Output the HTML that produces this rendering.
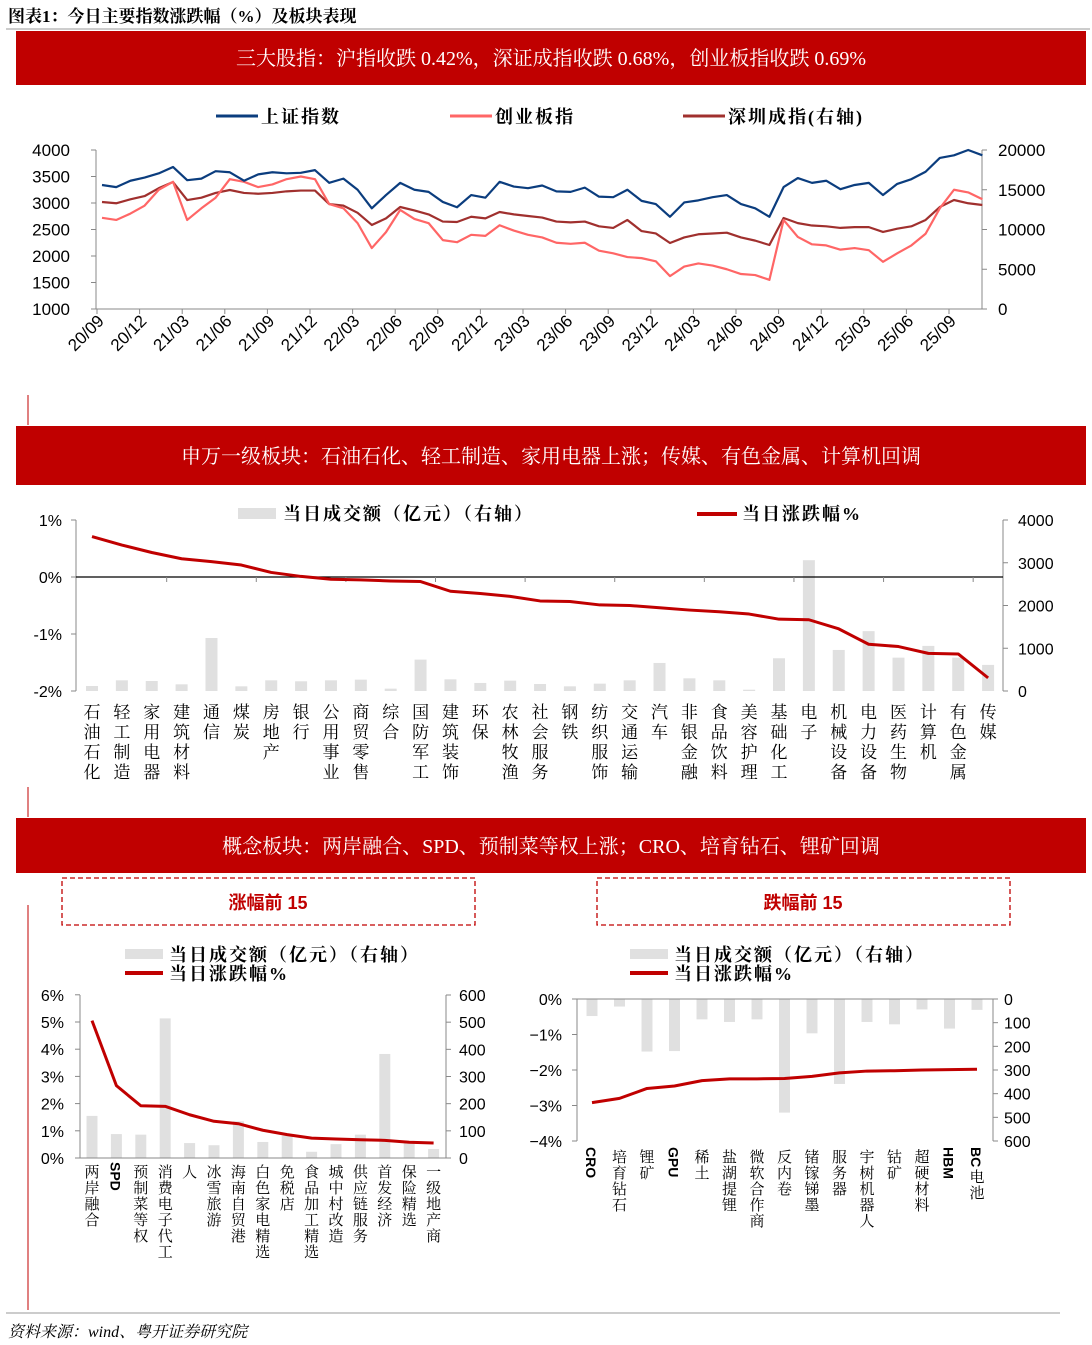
<!DOCTYPE html>
<html><head><meta charset="utf-8"><style>
html,body{margin:0;padding:0;background:#fff}
svg{display:block;font-family:"Liberation Sans","Noto Sans CJK SC",sans-serif}
.serif{font-family:"Liberation Serif","Noto Serif CJK SC",serif}
</style></head><body>
<svg id="s" width="1092" height="1345" viewBox="0 0 1092 1345" xmlns="http://www.w3.org/2000/svg">
<text x="8" y="22" font-size="17" font-weight="bold" fill="#000" class="serif">图表1：今日主要指数涨跌幅（%）及板块表现</text>
<line x1="6" y1="29" x2="1090" y2="29" stroke="#999" stroke-width="1"/>
<rect x="16" y="31" width="1070" height="54" fill="#C00000"/>
<text x="551" y="65" font-size="20" fill="#fff" text-anchor="middle" class="serif">三大股指：沪指收跌 0.42%，深证成指收跌 0.68%，创业板指收跌 0.69%</text>
<rect x="16" y="426" width="1070" height="59" fill="#C00000"/>
<text x="551" y="463" font-size="20" fill="#fff" text-anchor="middle" class="serif">申万一级板块：石油石化、轻工制造、家用电器上涨；传媒、有色金属、计算机回调</text>
<rect x="16" y="818" width="1070" height="55" fill="#C00000"/>
<text x="551" y="853" font-size="20" fill="#fff" text-anchor="middle" class="serif">概念板块：两岸融合、SPD、预制菜等权上涨；CRO、培育钻石、锂矿回调</text>
<line x1="28" y1="395" x2="28" y2="425" stroke="#C00000" stroke-width="1"/>
<line x1="28" y1="787" x2="28" y2="817" stroke="#C00000" stroke-width="1"/>
<line x1="28" y1="905" x2="28" y2="1310" stroke="#C00000" stroke-width="1"/>
<rect x="62" y="878" width="413" height="47" fill="none" stroke="#C00000" stroke-dasharray="5,3" stroke-width="1.3"/>
<text x="268" y="909" font-size="18" fill="#C00000" text-anchor="middle" font-weight="bold">涨幅前 15</text>
<rect x="597" y="878" width="413" height="47" fill="none" stroke="#C00000" stroke-dasharray="5,3" stroke-width="1.3"/>
<text x="803" y="909" font-size="18" fill="#C00000" text-anchor="middle" font-weight="bold">跌幅前 15</text>
<line x1="6" y1="1313" x2="1060" y2="1313" stroke="#999" stroke-width="1"/>
<text x="8" y="1337" font-size="16" font-style="italic" fill="#000" class="serif">资料来源：wind、粤开证券研究院</text>
<g id="g"></g>
</svg>
<script>
// ---- Chart 1 data (monthly samples from 2020/09) ----
const shIndex=[3340,3300,3420,3480,3560,3680,3430,3460,3600,3580,3420,3540,3580,3560,3570,3620,3380,3460,3250,2900,3150,3380,3250,3210,3020,2920,3150,3100,3400,3310,3280,3330,3220,3210,3290,3120,3110,3250,3040,2980,2740,3010,3050,3110,3150,2980,2900,2740,3300,3470,3380,3420,3260,3340,3380,3150,3360,3450,3590,3850,3900,4000,3900];
const cyIndex=[2720,2680,2800,2950,3250,3400,2680,2900,3100,3450,3400,3300,3350,3450,3500,3450,2980,2900,2620,2150,2450,2870,2700,2620,2300,2260,2400,2380,2580,2480,2400,2350,2250,2230,2250,2100,2050,1980,1960,1900,1620,1800,1860,1820,1750,1660,1640,1550,2680,2360,2220,2200,2120,2150,2110,1890,2050,2200,2420,2900,3250,3200,3070];
const szIndex=[13460,13300,13800,14200,15200,15970,13700,14000,14600,14970,14600,14500,14600,14800,14900,14900,13200,13000,12100,10570,11400,12830,12400,11900,11000,10940,11600,11400,12200,11900,11700,11500,11000,10900,11000,10400,10200,11200,9800,9500,8300,9000,9400,9500,9600,9000,8600,8050,11450,10800,10500,10400,10200,10300,10300,9690,10100,10400,11200,12830,13710,13300,13080];
const c1Ticks=["20/09","20/12","21/03","21/06","21/09","21/12","22/03","22/06","22/09","22/12","23/03","23/06","23/09","23/12","24/03","24/06","24/09","24/12","25/03","25/06","25/09"];
const c1Left=[1000,1500,2000,2500,3000,3500,4000];
const c1Right=[0,5000,10000,15000,20000];
// ---- Chart 2 data ----
const swCats=["石油石化","轻工制造","家用电器","建筑材料","通信","煤炭","房地产","银行","公用事业","商贸零售","综合","国防军工","建筑装饰","环保","农林牧渔","社会服务","钢铁","纺织服饰","交通运输","汽车","非银金融","食品饮料","美容护理","基础化工","电子","机械设备","电力设备","医药生物","计算机","有色金属","传媒"];
const swChg=[0.71,0.56,0.43,0.32,0.27,0.21,0.08,0.01,-0.04,-0.05,-0.07,-0.08,-0.25,-0.29,-0.34,-0.42,-0.43,-0.49,-0.50,-0.54,-0.58,-0.61,-0.65,-0.74,-0.75,-0.91,-1.18,-1.22,-1.34,-1.35,-1.77];
const swVol=[117,250,234,156,1240,109,250,227,250,265,55,734,273,188,242,164,109,172,250,656,297,250,30,766,3060,960,1400,780,1055,780,610];
const swLeft=["1%","0%","-1%","-2%"], swLeftV=[1,0,-1,-2];
const swRight=[0,1000,2000,3000,4000];
// ---- Chart 3 data ----
const upCats=["两岸融合","SPD","预制菜等权","消费电子代工","人","冰雪旅游","海南自贸港","白色家电精选","免税店","食品加工精选","城中村改造","供应链服务","首发经济","保险精选","一级地产商"];
const upChg=[5.05,2.66,1.92,1.90,1.59,1.35,1.26,1.02,0.86,0.73,0.70,0.67,0.65,0.58,0.55];
const upVol=[155,88,86,514,55,47,135,59,82,23,51,86,383,55,33];
const upLeft=[0,1,2,3,4,5,6], upRight=[0,100,200,300,400,500,600];
// ---- Chart 4 data ----
const dnCats=["CRO","培育钻石","锂矿","GPU","稀土","盐湖提锂","微软合作商","反内卷","锗镓锑墨","服务器","宇树机器人","钴矿","超硬材料","HBM","BC电池"];
const dnChg=[-2.92,-2.80,-2.52,-2.45,-2.30,-2.25,-2.25,-2.24,-2.18,-2.08,-2.03,-2.02,-2.00,-1.99,-1.98];
const dnVol=[72,32,222,220,86,97,86,480,145,359,97,107,44,125,46];
const dnLeft=[0,-1,-2,-3,-4], dnRight=[0,100,200,300,400,500,600];

const NS="http://www.w3.org/2000/svg";
const G=document.getElementById('g');
function el(tag,attrs,parent,txt){const e=document.createElementNS(NS,tag);for(const k in attrs)e.setAttribute(k,attrs[k]);if(txt!==undefined)e.textContent=txt;(parent||G).appendChild(e);return e;}

// ===== Chart 1 =====
(function(){
 const x0=97,dx=42.6/3,y0=309,h=159;
 const xs=i=>x0+5+i*dx;
 const yl=v=>y0-(v-1000)/3000*h;
 const yr=v=>y0-v/20000*h;
 let e=el('line',{x1:96,y1:150,x2:96,y2:309,stroke:'#888'});
 
 e=el('line',{x1:982,y1:150,x2:982,y2:309,stroke:'#888'});
 
 e=el('line',{x1:96,y1:309,x2:982,y2:309,stroke:'#888'});
 
 c1Left.forEach(v=>{const y=yl(v);el('line',{x1:91,y1:y,x2:96,y2:y,stroke:'#888'});
  const t=el('text',{x:70,y:y+6,'font-size':17,'text-anchor':'end'},G,String(v));
  });
 c1Right.forEach(v=>{const y=yr(v);el('line',{x1:982,y1:y,x2:987,y2:y,stroke:'#888'});
  const t=el('text',{x:998,y:y+6,'font-size':17},G,String(v));
  });
 c1Ticks.forEach((s,i)=>{const x=x0+i*42.6;el('line',{x1:x,y1:309,x2:x,y2:314,stroke:'#888'});
  const t=el('text',{x:x+8,y:322,'font-size':17,'text-anchor':'end',transform:`rotate(-45 ${x+8} 322)`},G,s);
  });
 const ser=[[szIndex,yr,'#A0302E','shenzhen-line'],[cyIndex,yl,'#FF6666','chinext-line'],[shIndex,yl,'#0B3D7E','shanghai-line']];
 ser.forEach(([arr,f,c,n])=>{const p=el('polyline',{points:arr.map((v,i)=>xs(i)+','+f(v)).join(' '),fill:'none',stroke:c,'stroke-width':2.2,'stroke-linejoin':'round'});
  });
 const leg=[['上证指数','#0B3D7E',216],['创业板指','#FF6666',450],['深圳成指(右轴)','#A0302E',683]];
 leg.forEach(([s,c,x])=>{const l=el('line',{x1:x,y1:116,x2:x+42,y2:116,stroke:c,'stroke-width':3});
  
  const t=el('text',{x:x+45,y:123,'font-size':18,'font-weight':'bold','letter-spacing':2,class:'serif'},G,s);
  });
})();

// ===== Chart 2 =====
(function(){
 const xL=76,xR=1003,step=29.87,x0=92;
 const xs=i=>x0+i*step;
 const yl=v=>577-v*57;
 const yr=v=>691-v/4000*171;
 let e=el('line',{x1:xL,y1:520,x2:xL,y2:691,stroke:'#888'});
 
 e=el('line',{x1:xR,y1:520,x2:xR,y2:691,stroke:'#888'});
 
 swLeftV.forEach((v,i)=>{const y=yl(v);el('line',{x1:xL-5,y1:y,x2:xL,y2:y,stroke:'#888'});
  const t=el('text',{x:62,y:y+6,'font-size':16,'text-anchor':'end'},G,swLeft[i]);
  });
 swRight.forEach(v=>{const y=yr(v);el('line',{x1:xR,y1:y,x2:xR+5,y2:y,stroke:'#888'});
  const t=el('text',{x:1018,y:y+6,'font-size':16},G,String(v));
  });
 swVol.forEach((v,i)=>{const y=yr(v);const b=el('rect',{x:xs(i)-6,y:y,width:12,height:691-y,fill:'#E0E0E0'});
  });
 e=el('line',{x1:xL,y1:577,x2:xR,y2:577,stroke:'#000','stroke-width':1.2});
 
 for(let i=3;i<swCats.length;i+=3){const x=xs(i)-step/2;el('line',{x1:x,y1:577,x2:x,y2:582,stroke:'#888'});}
 const p=el('polyline',{points:swChg.map((v,i)=>xs(i)+','+yl(v)).join(' '),fill:'none',stroke:'#C00000','stroke-width':3,'stroke-linejoin':'round'});
 
 swCats.forEach((s,i)=>{const t=el('text',{x:xs(i),y:718,'font-size':17,'text-anchor':'middle',class:'serif'});
  
  [...s].forEach((ch,k)=>el('tspan',{x:xs(i),y:718+k*20},t,ch));});
 let r=el('rect',{x:238,y:508,width:38,height:11,fill:'#E0E0E0'});
 
 let t=el('text',{x:283,y:520,'font-size':18,'font-weight':'bold','letter-spacing':2,class:'serif'},G,'当日成交额（亿元）（右轴）');
 
 r=el('line',{x1:697,y1:514,x2:737,y2:514,stroke:'#C00000','stroke-width':4});
 
 t=el('text',{x:742,y:520,'font-size':18,'font-weight':'bold','letter-spacing':2,class:'serif'},G,'当日涨跌幅%');
 
})();

// ===== Chart 3/4 helper =====
function small(o){
 const {cats,chg,vol,xL,xR,x0,step,yl,yr,yTop,yBot,leftV,leftFmt,rightV,rightY,lx,rx,prefix,labY,down,legX}=o;
 const xs=i=>x0+i*step;
 let e=el('line',{x1:xL,y1:yTop,x2:xL,y2:yBot,stroke:'#888'});
 
 e=el('line',{x1:xR,y1:yTop,x2:xR,y2:yBot,stroke:'#888'});
 
 leftV.forEach(v=>{const y=yl(v);el('line',{x1:xL-5,y1:y,x2:xL,y2:y,stroke:'#888'});
  const t=el('text',{x:lx,y:y+6,'font-size':16,'text-anchor':'end'},G,leftFmt(v));
  });
 rightV.forEach(v=>{const y=rightY(v);el('line',{x1:xR,y1:y,x2:xR+5,y2:y,stroke:'#888'});
  const t=el('text',{x:rx,y:y+6,'font-size':16},G,String(v));
  });
 vol.forEach((v,i)=>{const y=yr(v),b0=yr(0);const b=el('rect',{x:xs(i)-5.5,y:Math.min(y,b0),width:11,height:Math.abs(y-b0),fill:'#E0E0E0'});
  });
 const ax=down?yTop:yBot;
 e=el('line',{x1:xL,y1:ax,x2:xR,y2:ax,stroke:'#888'});
 
 const p=el('polyline',{points:chg.map((v,i)=>xs(i)+','+yl(v)).join(' '),fill:'none',stroke:'#C00000','stroke-width':3,'stroke-linejoin':'round'});
 
 cats.forEach((s,i)=>{const x=xs(i);
  if(/^[A-Za-z]/.test(s)){const m=s.match(/^[A-Za-z]+/)[0];const rest=s.slice(m.length);
   const t=el('text',{x:x-6,y:labY-3,'font-size':14,'font-weight':'bold',transform:`rotate(90 ${x-6} ${labY-3})`},G,m);
   
   if(rest){const t2=el('text',{x:x,y:labY+m.length*9+14,'font-size':15,'text-anchor':'middle',class:'serif'});
    
    [...rest].forEach((ch,k)=>el('tspan',{x:x,y:labY+m.length*9+14+k*16},t2,ch));}
  }else{const t=el('text',{x:x,y:labY+12,'font-size':15,'text-anchor':'middle',class:'serif'});
   
   [...s].forEach((ch,k)=>el('tspan',{x:x,y:labY+12+k*16},t,ch));}
 });
 let r=el('rect',{x:legX,y:949,width:38,height:10,fill:'#E0E0E0'});
 
 let t=el('text',{x:legX+44,y:961,'font-size':18,'font-weight':'bold','letter-spacing':2,class:'serif'},G,'当日成交额（亿元）（右轴）');
 
 r=el('line',{x1:legX,y1:973,x2:legX+38,y2:973,stroke:'#C00000','stroke-width':4});
 
 t=el('text',{x:legX+44,y:980,'font-size':18,'font-weight':'bold','letter-spacing':2,class:'serif'},G,'当日涨跌幅%');
 
}
small({cats:upCats,chg:upChg,vol:upVol,xL:80,xR:446,x0:92,step:24.4,
 yl:v=>1158-v*27.2,yr:v=>1158-v/600*163,yTop:995,yBot:1158,leftV:upLeft,leftFmt:v=>v+'%',
 rightV:upRight,rightY:v=>1158-v/600*163,lx:64,rx:459,prefix:'gainers',labY:1165,down:false,legX:125});
small({cats:dnCats,chg:dnChg,vol:dnVol,xL:577,xR:993,x0:592,step:27.5,
 yl:v=>999+(-v)*35.5,yr:v=>999+v/600*142,yTop:999,yBot:1141,leftV:dnLeft,leftFmt:v=>(v<0?'−':'')+Math.abs(v)+'%',
 rightV:dnRight,rightY:v=>999+v/600*142,lx:562,rx:1004,prefix:'losers',labY:1150,down:true,legX:630});
</script>
</body></html>
